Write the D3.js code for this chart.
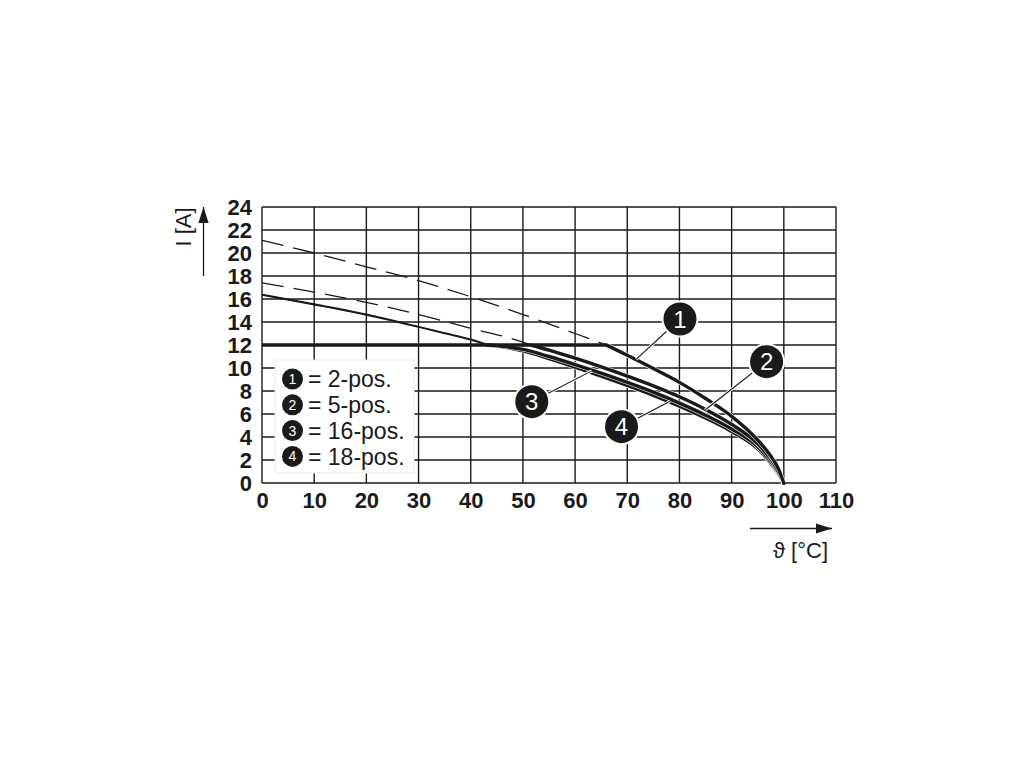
<!DOCTYPE html>
<html><head><meta charset="utf-8">
<script src="https://cdn.jsdelivr.net/npm/d3@7"></script>
<style>
html,body{margin:0;padding:0;background:#fff;}
svg{display:block;}
text{font-family:"Liberation Sans",Arial,Helvetica,sans-serif;}
</style></head>
<body>
<svg id="c" width="1020" height="765"></svg>
<script>
// ---- data ----
const xTicks = [0,10,20,30,40,50,60,70,80,90,100,110];
const yTicks = [0,2,4,6,8,10,12,14,16,18,20,22,24];
const capLevel = 12;
const capEnd = 66;

// curve 1 (2-pos)
const c1DashT = [0,10,20,30,40,50,60,66];
const c1DashI = [21.1,20.0,18.8,17.6,16.2,14.65,13.0,12.0];
const c1SolidT = [66,70,75,80,85,90,94,97,99,100];
const c1SolidI = [12.0,11.1,9.95,8.75,7.35,5.8,4.2,2.65,1.2,0];
// curve 2 (5-pos)
const c2DashT = [0,10,20,30,40,50,51.5];
const c2DashI = [17.4,16.6,15.7,14.65,13.45,12.25,12.0];
const c2SolidT = [51.5,55,60,65,70,75,80,85,90,95,98,100];
const c2SolidI = [12.0,11.55,10.85,10.1,9.3,8.45,7.5,6.4,5.1,3.4,1.75,0];
// curve 3 (16-pos)
const c3ThinT = [0,10,20,30,35,40,43.5];
const c3ThinI = [16.4,15.57,14.67,13.6,13.05,12.5,12.0];
const c3SolidT = [43.5,47,50,55,60,65,70,75,80,85,90,95,98,100];
const c3SolidI = [12.0,11.84,11.62,11.0,10.3,9.55,8.75,7.9,6.95,5.9,4.7,3.15,1.55,0];
// curve 4 (18-pos)
const c4ThinT = [0,10,20,30,35,40,43];
const c4ThinI = [16.35,15.5,14.6,13.55,13.0,12.45,12.0];
const c4SolidT = [43,47,50,55,60,65,70,75,80,85,90,95,98,100];
const c4SolidI = [12.0,11.78,11.5,10.82,10.08,9.3,8.48,7.62,6.68,5.65,4.48,2.97,1.42,0];

const legendNums = ["1","2","3","4"];
const legendLabels = ["= 2-pos.","= 5-pos.","= 16-pos.","= 18-pos."];
// callouts: label, circle position (data), leader end on curve (data)
const calloutNum = ["1","2","3","4"];
const calloutCx = [80.1,96.7,51.7,68.9];
const calloutCy = [14.26,10.55,7.07,4.9];
const calloutTx = [71.7,84.9,63.2,78.2];
const calloutTy = [10.75,6.35,9.75,7.1];

// ---- drawing ----
const svg = d3.select("#c");
const L=262, R=836, T=207, B=483;
const x = d3.scaleLinear().domain([0,110]).range([L,R]);
const y = d3.scaleLinear().domain([0,24]).range([B,T]);
const grid = svg.append("g");
const ink = "#1a1a1a";

// grid
grid.selectAll("line.v").data(xTicks).join("line")
  .attr("x1",d=>x(d)).attr("x2",d=>x(d)).attr("y1",T).attr("y2",B)
  .attr("stroke",ink).attr("stroke-width",1.4);
grid.selectAll("line.h").data(yTicks).join("line")
  .attr("y1",d=>y(d)).attr("y2",d=>y(d)).attr("x1",L).attr("x2",R)
  .attr("stroke",ink).attr("stroke-width",1.4);

// axes labels via d3 axes
const xAxis = svg.append("g").attr("transform",`translate(0,${B})`)
  .call(d3.axisBottom(x).tickValues(xTicks).tickSize(0).tickPadding(9));
const yAxis = svg.append("g").attr("transform",`translate(${L},0)`)
  .call(d3.axisLeft(y).tickValues(yTicks).tickSize(0).tickPadding(10));
[xAxis,yAxis].forEach(a=>{
  a.select(".domain").remove();
  a.selectAll("text").attr("font-family","Liberation Sans,Arial,sans-serif")
   .attr("font-size",22).attr("font-weight","bold").attr("fill",ink);
});
yAxis.selectAll("text").attr("dy","0.36em");
xAxis.selectAll("text").attr("dy","0.72em");

// legend box
const lg = svg.append("g");
lg.append("rect").attr("x",275).attr("y",360).attr("width",139).attr("height",113)
  .attr("fill","#fff").attr("stroke","#ececec").attr("stroke-width",1);
legendNums.forEach((n,i)=>{
  const cy = 379 + i*25.8;
  lg.append("circle").attr("cx",292.5).attr("cy",cy).attr("r",10.5).attr("fill",ink);
  lg.append("text").attr("x",292.5).attr("y",cy).attr("dy","0.36em").attr("text-anchor","middle")
    .attr("font-size",14).attr("fill","#fff").text(n);
  lg.append("text").attr("x",308).attr("y",cy).attr("dy","0.36em")
    .attr("font-size",23).attr("fill",ink).text(legendLabels[i]);
});

// curves
const line = d3.line().x(d=>x(d[0])).y(d=>y(d[1])).curve(d3.curveMonotoneX);
const zip = (a,b)=>a.map((v,i)=>[v,b[i]]);
const cg = svg.append("g");
function dashed(t,v){
  cg.append("path").attr("d",line(zip(t,v))).attr("fill","none")
    .attr("stroke",ink).attr("stroke-width",1.3).attr("stroke-dasharray","22,10");
}
function thin(t,v){
  cg.append("path").attr("d",line(zip(t,v))).attr("fill","none")
    .attr("stroke",ink).attr("stroke-width",1.4);
}
function thick(t,v){
  const d=line(zip(t,v));
  cg.append("path").attr("d",d).attr("fill","none").attr("stroke","#fff").attr("stroke-width",4.6);
  cg.append("path").attr("d",d).attr("fill","none").attr("stroke",ink).attr("stroke-width",3.4).attr("stroke-linecap","round");
}
dashed(c1DashT,c1DashI);
dashed(c2DashT,c2DashI);
thin(c3ThinT,c3ThinI);
thin(c4ThinT,c4ThinI);
thick(c4SolidT,c4SolidI);
thick(c3SolidT,c3SolidI);
thick(c2SolidT,c2SolidI);
thick(c1SolidT,c1SolidI);
// cap line
cg.append("line").attr("x1",x(0)).attr("x2",x(capEnd)).attr("y1",y(capLevel)).attr("y2",y(capLevel))
  .attr("stroke",ink).attr("stroke-width",3.6);

// callouts
const co = svg.append("g");
calloutNum.forEach((n,i)=>{
  const cx=x(calloutCx[i]), cy=y(calloutCy[i]), tx=x(calloutTx[i]), ty=y(calloutTy[i]);
  co.append("line").attr("x1",cx).attr("y1",cy).attr("x2",tx).attr("y2",ty)
    .attr("stroke","#fff").attr("stroke-width",3);
  co.append("line").attr("x1",cx).attr("y1",cy).attr("x2",tx).attr("y2",ty)
    .attr("stroke",ink).attr("stroke-width",1.1);
});
calloutNum.forEach((n,i)=>{
  const cx=x(calloutCx[i]), cy=y(calloutCy[i]);
  co.append("circle").attr("cx",cx).attr("cy",cy).attr("r",17.5).attr("fill",ink)
    .attr("stroke","#fff").attr("stroke-width",2);
  co.append("text").attr("x",cx).attr("y",cy).attr("dy","0.36em").attr("text-anchor","middle")
    .attr("font-size",24).attr("fill","#fff").text(n);
});

// axis titles and arrows
const defs = svg.append("defs");
defs.append("marker").attr("id","ah").attr("viewBox","0 0 10 10").attr("refX",10).attr("refY",5)
  .attr("markerWidth",16).attr("markerHeight",16).attr("markerUnits","userSpaceOnUse").attr("orient","auto")
  .append("path").attr("d","M0,1.8 L10,5 L0,8.2 Z").attr("fill",ink);
svg.append("line").attr("x1",203.5).attr("y1",276).attr("x2",203.5).attr("y2",207)
  .attr("stroke",ink).attr("stroke-width",1.3).attr("marker-end","url(#ah)");
svg.append("text").attr("transform","translate(191,227) rotate(-90)").attr("text-anchor","middle")
  .attr("font-size",22).attr("fill",ink).text("I [A]");
svg.append("line").attr("x1",750).attr("y1",528.5).attr("x2",832).attr("y2",528.5)
  .attr("stroke",ink).attr("stroke-width",1.3).attr("marker-end","url(#ah)");
svg.append("text").attr("x",828).attr("y",558).attr("text-anchor","end")
  .attr("font-size",22).attr("fill",ink).text("ϑ [°C]");
</script>
</body></html>
